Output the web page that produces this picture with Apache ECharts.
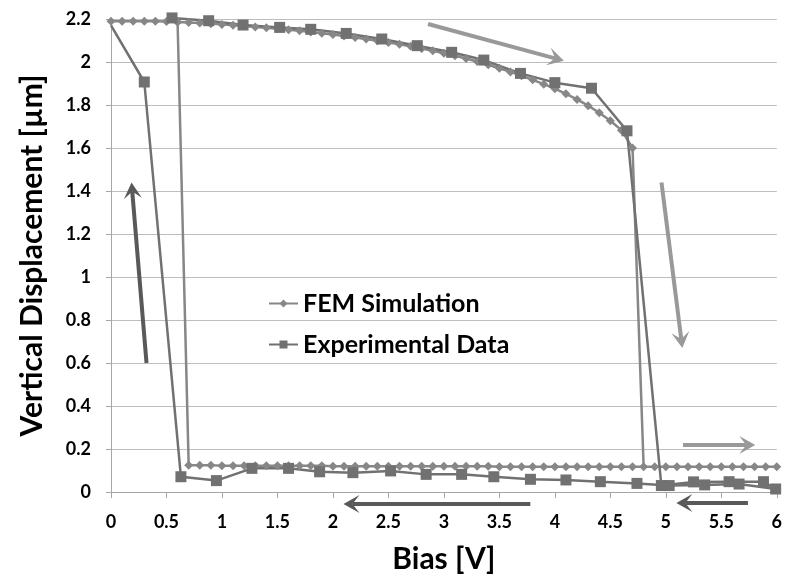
<!DOCTYPE html>
<html>
<head>
<meta charset="utf-8">
<script src="https://cdn.jsdelivr.net/npm/echarts@6/dist/echarts.min.js"></script>
<style>
html, body { margin: 0; padding: 0; background: #fff; }
#main { width: 785px; height: 581px; }
</style>
</head>
<body>
<div id="main"></div>
<script>
// FEM path: up-sweep along the top, snap down, then back along the bottom
var femBias = [0, 0.1, 0.2, 0.3, 0.4, 0.5, 0.6, 0.7, 0.8, 0.9, 1, 1.1, 1.2, 1.3, 1.4, 1.5, 1.6, 1.7, 1.8, 1.9,
  2, 2.1, 2.2, 2.3, 2.4, 2.5, 2.6, 2.7, 2.8, 2.9, 3, 3.1, 3.2, 3.3, 3.4, 3.5, 3.6, 3.7, 3.8, 3.9,
  4, 4.1, 4.2, 4.3, 4.4, 4.5, 4.6, 4.7,
  4.8, 4.9, 5, 5.1, 5.2, 5.3, 5.4, 5.5, 5.6, 5.7, 5.8, 5.9, 6,
  4.7, 4.6, 4.5, 4.4, 4.3, 4.2, 4.1, 4, 3.9, 3.8, 3.7, 3.6, 3.5, 3.4, 3.3, 3.2, 3.1, 3, 2.9, 2.8,
  2.7, 2.6, 2.5, 2.4, 2.3, 2.2, 2.1, 2, 1.9, 1.8, 1.7, 1.6, 1.5, 1.4, 1.3, 1.2, 1.1, 1, 0.9, 0.8, 0.7,
  0.6];
var femDisp = [2.19, 2.19, 2.19, 2.19, 2.19, 2.188, 2.186, 2.184, 2.181, 2.178, 2.175, 2.171, 2.167, 2.163, 2.159, 2.155, 2.15, 2.145, 2.14, 2.134,
  2.128, 2.121, 2.114, 2.107, 2.099, 2.091, 2.082, 2.073, 2.063, 2.052, 2.041, 2.029, 2.016, 2.002, 1.987, 1.971, 1.954, 1.936, 1.917, 1.897,
  1.876, 1.852, 1.826, 1.797, 1.764, 1.727, 1.683, 1.6,
  0.118, 0.118, 0.118, 0.118, 0.118, 0.118, 0.118, 0.118, 0.117, 0.117, 0.117, 0.117, 0.117,
  0.118, 0.118, 0.118, 0.118, 0.118, 0.118, 0.118, 0.118, 0.118, 0.118, 0.118, 0.118, 0.118, 0.12, 0.12, 0.12, 0.12, 0.12, 0.12, 0.12,
  0.12, 0.12, 0.12, 0.12, 0.12, 0.12, 0.12, 0.12, 0.122, 0.122, 0.122, 0.122, 0.122, 0.122, 0.122, 0.122, 0.122, 0.122, 0.125, 0.125, 0.125,
  2.186];

// measured hysteresis loop
var expBias = [0.55, 0.88, 1.19, 1.52, 1.8, 2.12, 2.44, 2.76, 3.07, 3.36, 3.69, 4.0, 4.33, 4.65,
  4.96, 5.25, 5.57, 5.88, 5.99, 5.66, 5.35, 5.03, 4.74, 4.41, 4.1, 3.78, 3.45, 3.16, 2.84, 2.52,
  2.18, 1.88, 1.6, 1.27, 0.95, 0.63, 0.3, 0];
var expDisp = [2.205, 2.192, 2.172, 2.161, 2.152, 2.133, 2.107, 2.076, 2.045, 2.009, 1.947, 1.904, 1.878, 1.68,
  0.03, 0.047, 0.048, 0.048, 0.014, 0.037, 0.033, 0.03, 0.04, 0.048, 0.056, 0.059, 0.071, 0.082, 0.082, 0.098,
  0.09, 0.094, 0.11, 0.11, 0.053, 0.071, 1.907, 2.17];

// sweep-direction arrows, [fromBias, fromDisp, toBias, toDisp]
var arrowsLight = [[2.857, 2.177, 4.081, 2.006], [4.961, 1.439, 5.149, 0.67], [5.155, 0.219, 5.806, 0.219]];
var arrowsDark = [[5.74, -0.051, 5.095, -0.051], [3.779, -0.056, 2.095, -0.056], [0.32, 0.6, 0.185, 1.439]];

var font = 'Lato, "Open Sans", sans-serif';

function pairs(xs, ys) {
  return xs.map(function (x, i) { return [x, ys[i]]; });
}

var expData = pairs(expBias, expDisp);
// last point sits under the FEM diamonds, no marker there
expData[expData.length - 1] = { value: expData[expData.length - 1], symbolSize: 0 };

var chart = echarts.init(document.getElementById('main'));
var option = {
  animation: false,
  backgroundColor: '#fff',
  grid: { left: 111, right: 4, top: 19, bottom: 89 },
  legend: {
    orient: 'vertical',
    left: 263,
    top: 286,
    itemWidth: 29,
    itemHeight: 10,
    itemGap: 16,
    textStyle: { fontFamily: font, fontWeight: 'bold', fontSize: 25, color: '#000' },
    data: ['FEM Simulation', 'Experimental Data']
  },
  xAxis: {
    type: 'value',
    min: 0,
    max: 6,
    interval: 0.5,
    name: 'Bias [V]',
    nameLocation: 'middle',
    nameGap: 52,
    nameTextStyle: { fontFamily: font, fontWeight: 'bold', fontSize: 30, color: '#000' },
    axisLine: { show: true, lineStyle: { color: '#a6a6a6', width: 1 } },
    axisTick: { show: true, length: 6, lineStyle: { color: '#a6a6a6' } },
    axisLabel: { fontFamily: font, fontWeight: 'bold', fontSize: 18, color: '#000', margin: 21 },
    splitLine: { show: false }
  },
  yAxis: {
    type: 'value',
    min: 0,
    max: 2.2,
    interval: 0.2,
    name: 'Vertical Displacement [µm]',
    nameLocation: 'middle',
    nameGap: 64,
    nameTextStyle: { fontFamily: font, fontWeight: 'bold', fontSize: 30, color: '#000' },
    axisLine: { show: true, lineStyle: { color: '#a6a6a6', width: 1 } },
    axisTick: { show: true, length: 5, lineStyle: { color: '#a6a6a6' } },
    axisLabel: { fontFamily: font, fontWeight: 'bold', fontSize: 18, color: '#000', margin: 20 },
    splitLine: { show: true, lineStyle: { color: '#bdbdbd', width: 1.2 } }
  },
  series: [
    {
      name: 'FEM Simulation',
      type: 'line',
      clip: false,
      data: pairs(femBias, femDisp),
      symbol: 'diamond',
      symbolSize: 9,
      showAllSymbol: true,
      lineStyle: { color: '#878787', width: 2.5 },
      itemStyle: { color: '#878787' }
    },
    {
      name: 'Experimental Data',
      type: 'line',
      clip: false,
      data: expData,
      symbol: 'rect',
      symbolSize: 11,
      showAllSymbol: true,
      lineStyle: { color: '#717171', width: 2.5 },
      itemStyle: { color: '#717171' }
    }
  ]
};
chart.setOption(option);

function arrow(a, color) {
  var p0 = chart.convertToPixel({ gridIndex: 0 }, [a[0], a[1]]);
  var p1 = chart.convertToPixel({ gridIndex: 0 }, [a[2], a[3]]);
  var dx = p1[0] - p0[0], dy = p1[1] - p0[1];
  var len = Math.sqrt(dx * dx + dy * dy);
  var ux = dx / len, uy = dy / len, nx = -uy, ny = ux;
  var hl = 16, hw = 9, notch = 9;
  var bx = p1[0] - ux * hl, by = p1[1] - uy * hl;
  var mx = p1[0] - ux * notch, my = p1[1] - uy * notch;
  return [
    {
      type: 'polyline', silent: true,
      shape: { points: [p0, [mx, my]] },
      style: { stroke: color, lineWidth: 4, fill: null }
    },
    {
      type: 'polygon', silent: true,
      shape: { points: [p1, [bx + nx * hw, by + ny * hw], [mx, my], [bx - nx * hw, by - ny * hw]] },
      style: { fill: color, stroke: null }
    }
  ];
}

var shapes = [];
arrowsLight.forEach(function (a) { shapes = shapes.concat(arrow(a, '#999999')); });
arrowsDark.forEach(function (a) { shapes = shapes.concat(arrow(a, '#595959')); });
chart.setOption({ graphic: shapes });
</script>
</body>
</html>
